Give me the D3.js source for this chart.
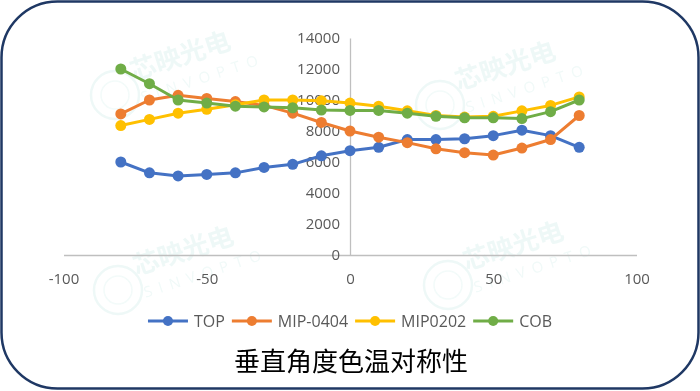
<!DOCTYPE html>
<html><head><meta charset="utf-8">
<script src="https://cdn.jsdelivr.net/npm/d3@7"></script>
<style>
html,body{margin:0;padding:0;background:#fff;}
svg{display:block;}
</style>
</head><body>
<svg id="chart" width="700" height="391"></svg>
<script>
const angles = [-80,-70,-60,-50,-40,-30,-20,-10,0,10,20,30,40,50,60,70,80];
const seriesNames = ["TOP","MIP-0404","MIP0202","COB"];
const topVals     = [6000,5300,5100,5200,5300,5650,5850,6400,6730,6950,7450,7450,7500,7700,8050,7700,6950];
const mip0404Vals = [9100,10000,10300,10100,9900,9650,9150,8550,8000,7600,7250,6850,6600,6450,6900,7450,9000];
const mip0202Vals = [8350,8750,9150,9400,9700,10000,10000,9950,9800,9600,9300,9000,8900,8950,9300,9650,10200];
const cobVals     = [12000,11050,10000,9800,9600,9550,9500,9350,9330,9330,9150,8950,8850,8850,8800,9250,10000];
const colors = ["#4472C4","#ED7D31","#FFC000","#70AD47"];
const xTicks = [-100,-50,0,50,100];
const yTicks = [0,2000,4000,6000,8000,10000,12000,14000];
const title = "垂直角度色温对称性";
const watermarkCN = "芯映光电", watermarkEN = "SINVOPTO";

const allVals = [topVals, mip0404Vals, mip0202Vals, cobVals];
const svg = d3.select("#chart");
const W = 700, H = 391;

// outer rounded border
svg.append("rect").attr("x",1.5).attr("y",1.5).attr("width",W-3).attr("height",H-4)
  .attr("rx",56).attr("ry",56).attr("fill","#fff").attr("stroke","#1F3864").attr("stroke-width",2.5);

// watermarks (faint)
const wm = svg.append("g").attr("opacity",0.35);
[[115,95],[440,105],[118,290],[448,285]].forEach(([cx,cy])=>{
  const g = wm.append("g").attr("transform",`translate(${cx},${cy})`);
  g.append("circle").attr("r",24).attr("fill","none").attr("stroke","#cfece8").attr("stroke-width",2.5);
  g.append("circle").attr("r",14).attr("fill","none").attr("stroke","#dcf2ef").attr("stroke-width",1.5);
  g.append("text").attr("x",22).attr("y",-8).attr("transform","rotate(-18)")
    .attr("font-family","Noto Sans CJK SC").attr("font-size",26).attr("font-weight","bold")
    .attr("fill","#cfece8").text(watermarkCN);
  g.append("text").attr("x",24).attr("y",16).attr("transform","rotate(-18)")
    .attr("font-family","Open Sans").attr("font-size",15).attr("letter-spacing",7)
    .attr("fill","#d6efec").text(watermarkEN);
});

const x = d3.scaleLinear().domain([-100,100]).range([63.5,636.5]);
const y = d3.scaleLinear().domain([0,14000]).range([255,38]);
const font = "'Open Sans', 'Noto Sans', sans-serif";
const gray = "#595959";
const fmt = d => String(d);

// x axis (at y=0)
const xAxis = svg.append("g").attr("transform",`translate(0,${y(0)})`)
  .call(d3.axisBottom(x).tickValues(xTicks).tickSize(0).tickPadding(18).tickFormat(fmt));
xAxis.select(".domain").attr("stroke","#BFBFBF").attr("stroke-width",1.3);
xAxis.selectAll("text").attr("font-family",font).attr("font-size",15).attr("fill",gray);

// y axis (at x=0)
const yAxis = svg.append("g").attr("transform",`translate(${x(0)},0)`)
  .call(d3.axisLeft(y).tickValues(yTicks).tickSize(0).tickPadding(10).tickFormat(fmt));
yAxis.select(".domain").attr("stroke","#BFBFBF").attr("stroke-width",1.3);
yAxis.selectAll("text").attr("font-family",font).attr("font-size",15).attr("fill",gray);

// series
const line = d3.line().x((d,i)=>x(angles[i])).y(d=>y(d));
allVals.forEach((vals,si)=>{
  const g = svg.append("g");
  g.append("path").datum(vals).attr("d",line).attr("fill","none")
    .attr("stroke",colors[si]).attr("stroke-width",3).attr("stroke-linejoin","round");
  g.selectAll("circle").data(vals).join("circle")
    .attr("cx",(d,i)=>x(angles[i])).attr("cy",d=>y(d)).attr("r",5.5).attr("fill",colors[si]);
});

// legend
const lg = svg.append("g");
let cur = 0;
seriesNames.forEach((name,i)=>{
  const item = lg.append("g").attr("transform",`translate(${cur},0)`);
  item.append("line").attr("x1",0).attr("x2",40).attr("y1",0).attr("y2",0)
    .attr("stroke",colors[i]).attr("stroke-width",3);
  item.append("circle").attr("cx",20).attr("cy",0).attr("r",5).attr("fill",colors[i]);
  const t = item.append("text").attr("x",46).attr("y",6).attr("font-family",font)
    .attr("font-size",16).attr("fill",gray).text(name);
  cur += 46 + t.node().getComputedTextLength() + 7;
});
const lgW = cur - 7;
lg.attr("transform",`translate(${350 - lgW/2},321)`);

// title
svg.append("text").attr("x",351).attr("y",371).attr("text-anchor","middle")
  .attr("font-family","'Noto Sans CJK SC', sans-serif").attr("font-size",26)
  .attr("fill","#000").text(title);
</script>
</body></html>
